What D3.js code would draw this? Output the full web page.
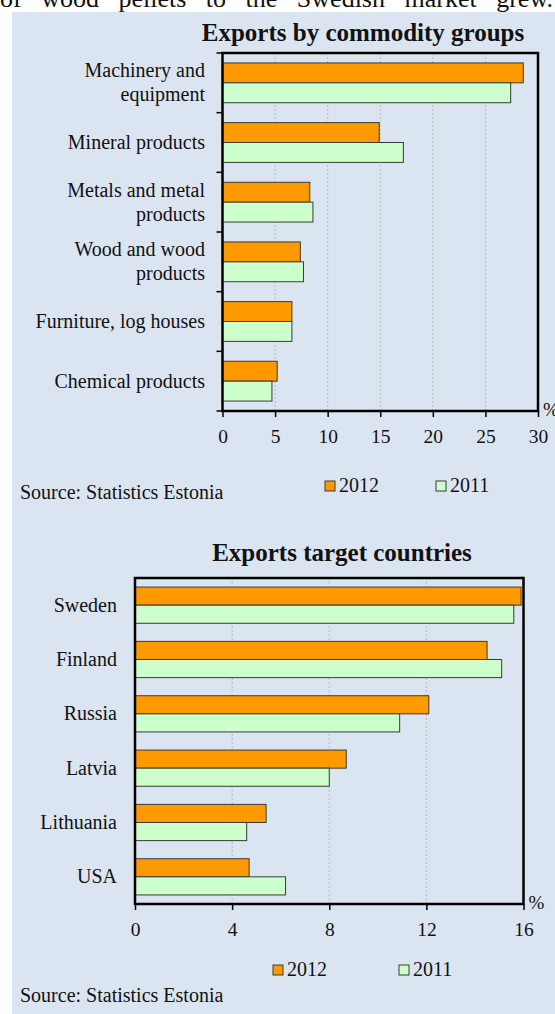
<!DOCTYPE html>
<html>
<head>
<meta charset="utf-8">
<script src="https://cdnjs.cloudflare.com/ajax/libs/d3/7.8.5/d3.min.js"></script>
<style>
  body { margin: 0; background: #fff; }
  svg text { font-family: "Liberation Serif", "Times New Roman", serif; fill: #111; }
</style>
</head>
<body>
<div id="chart"></div>
<script>
// exports by commodity groups, % of total
var commodities = ["Machinery and\nequipment", "Mineral products", "Metals and metal\nproducts",
                   "Wood and wood\nproducts", "Furniture, log houses", "Chemical products"];
var commodity2012 = [28.6, 14.9, 8.3, 7.4, 6.6, 5.2];
var commodity2011 = [27.4, 17.2, 8.6, 7.7, 6.6, 4.7];
var commodityTicks = [0, 5, 10, 15, 20, 25, 30];

// exports target countries, % of total
var countries = ["Sweden", "Finland", "Russia", "Latvia", "Lithuania", "USA"];
var country2012 = [15.9, 14.5, 12.1, 8.7, 5.4, 4.7];
var country2011 = [15.6, 15.1, 10.9, 8.0, 4.6, 6.2];
var countryTicks = [0, 4, 8, 12, 16];

var years = ["2012", "2011"];
var colors = {"2012": "#ff9900", "2011": "#ccffcc"};

var W = 555, H = 1014;

var svg = d3.select("#chart")
  .append("svg")
    .attr("width", W)
    .attr("height", H);

// panel background
svg.append("rect")
  .attr("x", 12).attr("y", 12)
  .attr("width", W - 12).attr("height", H - 12)
  .attr("fill", "#dbe5f1");

// clipped last line of the page text above the box (justified)
var words = "of wood pellets to the Swedish market grew.".split(" ");
var wt = svg.append("g").selectAll("text").data(words).join("text")
  .attr("y", 7)
  .style("font-size", "26px")
  .text(function(d) { return d; });
var widths = [];
wt.each(function() { widths.push(this.getComputedTextLength()); });
var gap = (W - 2 - d3.sum(widths)) / (words.length - 1);
var pos = 0;
wt.attr("x", function(d, i) { var p = pos; pos += widths[i] + gap; return p; });

function drawChart(cfg) {
  var g = svg.append("g");

  var x = d3.scaleLinear()
    .domain([0, d3.max(cfg.ticks)])
    .range([cfg.left, cfg.right]);
  var y = d3.scaleBand()
    .domain(cfg.categories)
    .range([cfg.top, cfg.bottom]);
  var ySub = d3.scaleBand()
    .domain(years)
    .range([y.bandwidth() / 6, y.bandwidth() * 5 / 6]);

  // dashed gridlines
  g.selectAll(".grid")
    .data(cfg.ticks.slice(1, -1))
    .join("line")
      .attr("x1", function(d) { return x(d); })
      .attr("x2", function(d) { return x(d); })
      .attr("y1", cfg.top)
      .attr("y2", cfg.bottom)
      .attr("stroke", "#b8b8b8")
      .attr("stroke-dasharray", "2,2");

  // bars
  var rows = cfg.categories.map(function(c, i) {
    return {cat: c, values: [{year: "2012", v: cfg.s2012[i]}, {year: "2011", v: cfg.s2011[i]}]};
  });
  g.selectAll(".row")
    .data(rows)
    .join("g")
      .attr("transform", function(d) { return "translate(0," + y(d.cat) + ")"; })
    .selectAll("rect")
    .data(function(d) { return d.values; })
    .join("rect")
      .attr("x", x(0))
      .attr("y", function(d) { return ySub(d.year); })
      .attr("width", function(d) { return x(d.v) - x(0); })
      .attr("height", ySub.bandwidth())
      .attr("fill", function(d) { return colors[d.year]; })
      .attr("stroke", "#3a3a3a")
      .attr("stroke-width", 1);

  // frame
  g.append("rect")
    .attr("x", cfg.left)
    .attr("y", cfg.top)
    .attr("width", cfg.right - cfg.left)
    .attr("height", cfg.bottom - cfg.top)
    .attr("fill", "none")
    .attr("stroke", "#000")
    .attr("stroke-width", 2.5);

  // x axis
  var xAxis = g.append("g")
    .attr("transform", "translate(0," + cfg.bottom + ")")
    .call(d3.axisBottom(x).tickValues(cfg.ticks).tickSize(6).tickPadding(12));
  xAxis.select(".domain").remove();
  xAxis.selectAll(".tick line").attr("stroke", "#000").attr("stroke-width", 1.5);
  xAxis.selectAll(".tick text")
    .style("font-family", "'Liberation Serif', serif")
    .style("font-size", "19.5px")
    .attr("fill", "#111");

  // y boundary ticks
  if (cfg.yTicks) {
    g.selectAll(".ytick")
      .data(cfg.categories.map(function(c) { return y(c); }).concat([cfg.bottom]))
      .join("line")
        .attr("x1", cfg.left - 6)
        .attr("x2", cfg.left)
        .attr("y1", function(d) { return d; })
        .attr("y2", function(d) { return d; })
        .attr("stroke", "#000")
        .attr("stroke-width", 1.5);
  }

  // category labels
  g.selectAll(".label")
    .data(cfg.categories)
    .join("text")
      .attr("text-anchor", "end")
      .style("font-size", "20px")
      .each(function(d) {
        var lines = d.split("\n");
        var cy = y(d) + y.bandwidth() / 2;
        var t = d3.select(this);
        lines.forEach(function(l, i) {
          t.append("tspan")
            .attr("x", cfg.labelX)
            .attr("y", cy + (i - (lines.length - 1) / 2) * 24)
            .attr("dy", "0.33em")
            .text(l);
        });
      });

  // title
  g.append("text")
    .attr("x", cfg.titleX)
    .attr("y", cfg.titleY)
    .attr("text-anchor", "middle")
    .style("font-size", "25px")
    .style("font-weight", "bold")
    .text(cfg.title);

  // unit
  g.append("text")
    .attr("x", cfg.right + 5)
    .attr("y", cfg.bottom + 5)
    .style("font-size", "19px")
    .text("%");

  // legend
  years.forEach(function(yr, i) {
    var lx = cfg.legendX[i];
    g.append("rect")
      .attr("x", lx).attr("y", cfg.legendY - 11)
      .attr("width", 10).attr("height", 10)
      .attr("fill", colors[yr])
      .attr("stroke", "#3a3a3a");
    g.append("text")
      .attr("x", lx + 14)
      .attr("y", cfg.legendY)
      .style("font-size", "20px")
      .text(yr);
  });

  // source
  g.append("text")
    .attr("x", 20)
    .attr("y", cfg.sourceY)
    .style("font-size", "20px")
    .text("Source: Statistics Estonia");
}

drawChart({
  categories: commodities, s2012: commodity2012, s2011: commodity2011, ticks: commodityTicks,
  left: 222.5, right: 538, top: 53, bottom: 411,
  yTicks: true, labelX: 205,
  title: "Exports by commodity groups", titleX: 363, titleY: 41,
  legendX: [325, 436], legendY: 492, sourceY: 499
});

drawChart({
  categories: countries, s2012: country2012, s2011: country2011, ticks: countryTicks,
  left: 135, right: 523.5, top: 578, bottom: 904,
  yTicks: false, labelX: 117,
  title: "Exports target countries", titleX: 342, titleY: 561,
  legendX: [273, 399], legendY: 976, sourceY: 1002
});
</script>
</body>
</html>
